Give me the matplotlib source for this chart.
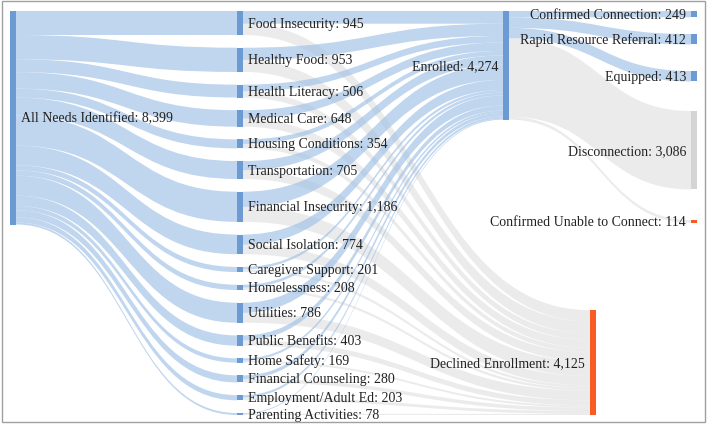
import matplotlib.pyplot as plt
from matplotlib.path import Path
from matplotlib.patches import PathPatch, Rectangle

# data
root_label = "All Needs Identified"
needs = ["Food Insecurity", "Healthy Food", "Health Literacy", "Medical Care",
         "Housing Conditions", "Transportation", "Financial Insecurity",
         "Social Isolation", "Caregiver Support", "Homelessness", "Utilities",
         "Public Benefits", "Home Safety", "Financial Counseling",
         "Employment/Adult Ed", "Parenting Activities"]
need_totals = [945, 953, 506, 648, 354, 705, 1186, 774, 201, 208, 786, 403,
               169, 280, 203, 78]
# estimated part of each need that went on to enrollment
need_enrolled = [500, 480, 260, 330, 180, 360, 600, 400, 100, 110, 400, 200,
                 90, 140, 90, 34]
need_declined = [t - e for t, e in zip(need_totals, need_enrolled)]

outcomes = ["Confirmed Connection", "Rapid Resource Referral", "Equipped",
            "Disconnection", "Confirmed Unable to Connect"]
outcome_values = [249, 412, 413, 3086, 114]
outcome_kind = ["blue", "blue", "blue", "grey", "orange"]

# styling
NODE_BLUE = "#6b9bd2"
NODE_GREY = "#d4d4d4"
NODE_ORANGE = "#fa5a24"
LINK_BLUE = ("#9ec0e6", 0.65)
LINK_GREY = ("#d9d9d9", 0.5)
FONT = ["Liberation Serif", "DejaVu Serif"]
FS = 10

# layout (pixel space, y down)
W, H = 708, 427
TOP, BOTTOM = 12, 416
GAP = 12.7
NODE_W = 6
K = (BOTTOM - TOP - GAP * (len(needs) - 1)) / sum(need_totals)
X_ROOT, X_NEED, X_ENR, X_DEC, X_OUT = 10, 237, 503, 590, 691
OUT_TOPS = [12, 35, 72, 112, 221]

fig = plt.figure(figsize=(W / 100, H / 100), dpi=100)
ax = fig.add_axes([0, 0, 1, 1])
ax.set_xlim(0, W)
ax.set_ylim(H, 0)
ax.axis("off")


def ribbon(x0, y0, x1, y1, h, style, z):
    color, alpha = style
    xm = (x0 + x1) / 2
    verts = [(x0, y0), (xm, y0), (xm, y1), (x1, y1),
             (x1, y1 + h), (xm, y1 + h), (xm, y0 + h), (x0, y0 + h), (x0, y0)]
    codes = [Path.MOVETO, Path.CURVE4, Path.CURVE4, Path.CURVE4,
             Path.LINETO, Path.CURVE4, Path.CURVE4, Path.CURVE4, Path.CLOSEPOLY]
    ax.add_patch(PathPatch(Path(verts, codes), facecolor=color, alpha=alpha,
                           edgecolor="none", zorder=z))


def node(x, y, v, color):
    ax.add_patch(Rectangle((x, y), NODE_W, v * K, facecolor=color,
                           edgecolor="none", zorder=5))


def label(x, y, text, side):
    if side == "right":
        ax.text(x + NODE_W + 5, y, text, ha="left", va="center", fontsize=FS,
                family=FONT, color="#222222", zorder=6)
    else:
        ax.text(x - 5, y, text, ha="right", va="center", fontsize=FS,
                family=FONT, color="#222222", zorder=6)


# node positions
root_total = sum(need_totals)
need_tops = []
y = TOP
for t in need_totals:
    need_tops.append(y)
    y += t * K + GAP
enr_total = sum(need_enrolled)
dec_total = sum(need_declined)
enr_top = TOP
dec_top = BOTTOM - dec_total * K

# root -> needs
y_src = TOP
for t, ty in zip(need_totals, need_tops):
    ribbon(X_ROOT + NODE_W, y_src, X_NEED, ty, t * K, LINK_BLUE, 2)
    y_src += t * K

# needs -> enrolled / declined
y_enr, y_dec = enr_top, dec_top
for e, d, ty in zip(need_enrolled, need_declined, need_tops):
    ribbon(X_NEED + NODE_W, ty + e * K, X_DEC, y_dec, d * K, LINK_GREY, 1)
    ribbon(X_NEED + NODE_W, ty, X_ENR, y_enr, e * K, LINK_BLUE, 2)
    y_enr += e * K
    y_dec += d * K

# enrolled -> outcomes
y_src = enr_top
for v, ty, kind in zip(outcome_values, OUT_TOPS, outcome_kind):
    style = LINK_BLUE if kind == "blue" else LINK_GREY
    ribbon(X_ENR + NODE_W, y_src, X_OUT, ty, v * K, style, 2 if kind == "blue" else 1)
    y_src += v * K

# nodes and labels
node(X_ROOT, TOP, root_total, NODE_BLUE)
label(X_ROOT, TOP + root_total * K / 2, f"{root_label}: {root_total:,}", "right")
for n, t, ty in zip(needs, need_totals, need_tops):
    node(X_NEED, ty, t, NODE_BLUE)
    label(X_NEED, ty + t * K / 2, f"{n}: {t:,}", "right")
node(X_ENR, enr_top, enr_total, NODE_BLUE)
label(X_ENR, enr_top + enr_total * K / 2, f"Enrolled: {enr_total:,}", "left")
node(X_DEC, dec_top, dec_total, NODE_ORANGE)
label(X_DEC, dec_top + dec_total * K / 2, f"Declined Enrollment: {dec_total:,}", "left")
kind_color = {"blue": NODE_BLUE, "grey": NODE_GREY, "orange": NODE_ORANGE}
for n, v, ty, kind in zip(outcomes, outcome_values, OUT_TOPS, outcome_kind):
    node(X_OUT, ty, v, kind_color[kind])
    label(X_OUT, ty + v * K / 2, f"{n}: {v:,}", "left")

# frame around the figure
ax.add_patch(Rectangle((2, 2), 703, 421, facecolor="none", edgecolor="#a0a0a0",
                       linewidth=1, zorder=7, clip_on=False))

fig.savefig("out.png", dpi=100)
